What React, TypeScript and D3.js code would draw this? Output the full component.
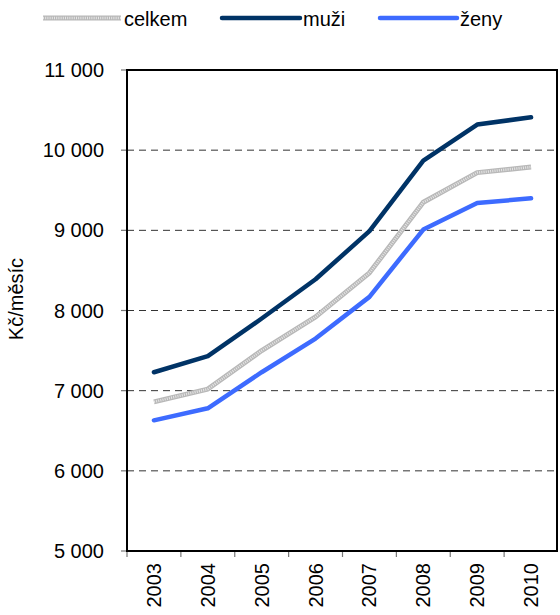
import React from 'react'
import * as d3 from 'd3'

const years = ['2003', '2004', '2005', '2006', '2007', '2008', '2009', '2010']
const celkem = [6860, 7020, 7500, 7920, 8470, 9350, 9720, 9790]
const muzi = [7230, 7430, 7900, 8390, 8990, 9870, 10320, 10410]
const zeny = [6630, 6780, 7230, 7650, 8170, 9010, 9340, 9400]
const yTicks = [5000, 6000, 7000, 8000, 9000, 10000, 11000]

const font = 'Arial, "Liberation Sans", sans-serif'

export default function App() {
  const width = 560
  const height = 615
  const plot = { left: 127, right: 558, top: 70, bottom: 551 }
  const fs = 20

  const x = d3.scaleBand<string>().domain(years).range([plot.left, plot.right]).padding(0)
  const y = d3.scaleLinear().domain([5000, 11000]).range([plot.bottom, plot.top])

  const line = d3.line<number>()
    .x((_, i) => (x(years[i]) || 0) + x.bandwidth() / 2)
    .y(d => y(d))

  const fmt = (v: number) => d3.format(',')(v).replace(',', ' ')

  // legend entries
  const legend = [
    { label: 'celkem', x1: 43, x2: 121, kind: 'celkem' },
    { label: 'muži', x1: 222, x2: 300, kind: 'muzi' },
    { label: 'ženy', x1: 380, x2: 457, kind: 'zeny' },
  ]

  const strokeFor = (kind: string, d: string, key: string) => {
    if (kind === 'celkem') {
      return (
        <g key={key}>
          <path d={d} fill="none" stroke="#b8b8b8" strokeWidth={5} strokeLinejoin="round" />
          <path d={d} fill="none" stroke="#e6e6e6" strokeWidth={2.5} strokeDasharray="1 1.2" />
        </g>
      )
    }
    return (
      <path key={key} d={d} fill="none" stroke={kind === 'muzi' ? '#003366' : '#3d6bff'}
        strokeWidth={4.5} strokeLinecap="round" strokeLinejoin="round" />
    )
  }

  return (
    <svg width={width} height={height} style={{ position: 'absolute', left: 0, top: 0, background: '#fff' }}
      fontFamily={font}>
      {/* legend */}
      {legend.map(l => (
        <g key={l.label}>
          {strokeFor(l.kind, `M${l.x1},18H${l.x2}`, 'lg' + l.label)}
          <text x={l.x2 + 3} y={26} fontSize={fs}>{l.label}</text>
        </g>
      ))}

      {/* grid */}
      {yTicks.filter(t => t !== 5000 && t !== 11000).map(t => (
        <line key={t} x1={plot.left} x2={plot.right} y1={y(t)} y2={y(t)}
          stroke="#333" strokeWidth={1} strokeDasharray="7 5" />
      ))}

      {/* y ticks and labels */}
      {yTicks.map(t => (
        <g key={'yt' + t}>
          <line x1={plot.left - 6} x2={plot.left} y1={y(t)} y2={y(t)} stroke="#777" strokeWidth={1.2} />
          <text x={104} y={y(t) + 7} fontSize={fs} textAnchor="end">{fmt(t)}</text>
        </g>
      ))}

      {/* x ticks and labels */}
      {years.map(yr => (
        <g key={'xt' + yr}>
          <line x1={x(yr)} x2={x(yr)} y1={plot.bottom} y2={plot.bottom + 6} stroke="#777" strokeWidth={1.2} />
          <text transform={`translate(${(x(yr) || 0) + x.bandwidth() / 2 + 7},563) rotate(-90)`}
            fontSize={fs} textAnchor="end">{yr}</text>
        </g>
      ))}

      {/* frame */}
      <rect x={plot.left} y={plot.top} width={plot.right - plot.left - 1} height={plot.bottom - plot.top}
        fill="none" stroke="#000" strokeWidth={2} />

      {/* axis title */}
      <text transform="translate(23,299) rotate(-90)" fontSize={fs} textAnchor="middle">Kč/měsíc</text>

      {/* series */}
      {strokeFor('celkem', line(celkem) || '', 'celkem')}
      {strokeFor('muzi', line(muzi) || '', 'muzi')}
      {strokeFor('zeny', line(zeny) || '', 'zeny')}
    </svg>
  )
}
